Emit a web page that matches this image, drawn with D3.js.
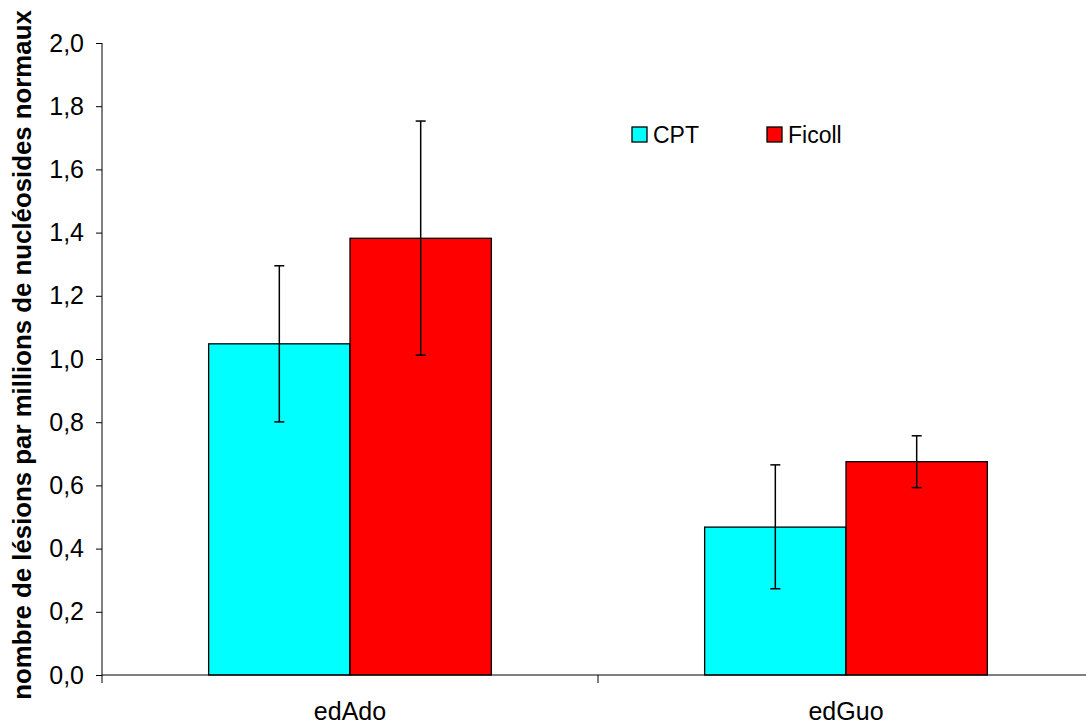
<!DOCTYPE html>
<html><head><meta charset="utf-8">
<script src="https://cdn.jsdelivr.net/npm/d3@7"></script>
<style>body{margin:0;background:#fff}svg{display:block}</style>
</head><body>
<svg id="c" width="1086" height="724"></svg>
<script>
const categories = ["edAdo", "edGuo"];
const seriesNames = ["CPT", "Ficoll"];
const seriesColors = ["#00FFFF", "#FF0000"];
const cptValues = [1.048, 0.468];
const cptErrLow = [0.801, 0.273];
const cptErrHigh = [1.295, 0.665];
const ficollValues = [1.382, 0.675];
const ficollErrLow = [1.012, 0.593];
const ficollErrHigh = [1.753, 0.757];
const yTicks = [0, 0.2, 0.4, 0.6, 0.8, 1.0, 1.2, 1.4, 1.6, 1.8, 2.0];
const yTitle = "nombre de lésions par millions de nucléosides normaux";

(function () {
const values = [cptValues, ficollValues];
const lows = [cptErrLow, ficollErrLow];
const highs = [cptErrHigh, ficollErrHigh];
const FONT = "Arial, 'Liberation Sans', sans-serif";

const svg = d3.select("#c");
const mLeft = 102, mRight = 1094, mTop = 43, mBottom = 675;
const y = d3.scaleLinear().domain([0, 2]).range([mBottom, mTop]);
const x0 = d3.scaleBand().domain(categories).range([mLeft, mRight]).padding(0);
const groupFrac = 0.57;
const x1 = d3.scaleBand().domain(seriesNames).range([0, x0.bandwidth() * groupFrac]).padding(0);
const groupOffset = x0.bandwidth() * (1 - groupFrac) / 2;

const data = [];
categories.forEach((c, i) => seriesNames.forEach((s, j) => data.push({c, s, j, v: values[j][i], lo: lows[j][i], hi: highs[j][i]})));

svg.append("g").selectAll("rect").data(data).join("rect")
  .attr("x", d => x0(d.c) + groupOffset + x1(d.s))
  .attr("y", d => y(d.v))
  .attr("width", x1.bandwidth())
  .attr("height", d => y(0) - y(d.v))
  .attr("fill", d => seriesColors[d.j])
  .attr("stroke", "#000").attr("stroke-width", 1.3);

const eg = svg.append("g").attr("stroke", "#000").attr("stroke-width", 1.5);
data.forEach(d => {
  const cx = x0(d.c) + groupOffset + x1(d.s) + x1.bandwidth() / 2;
  eg.append("line").attr("x1", cx).attr("x2", cx).attr("y1", y(d.lo)).attr("y2", y(d.hi));
  eg.append("line").attr("x1", cx - 5).attr("x2", cx + 5).attr("y1", y(d.lo)).attr("y2", y(d.lo));
  eg.append("line").attr("x1", cx - 5).attr("x2", cx + 5).attr("y1", y(d.hi)).attr("y2", y(d.hi));
});

const yAxis = d3.axisLeft(y).tickValues(yTicks).tickSize(6).tickPadding(12)
  .tickFormat(d => d3.format(".1f")(d).replace(".", ","));
const ga = svg.append("g").attr("transform", `translate(${mLeft},0)`).call(yAxis);
ga.select(".domain").attr("d", `M0,${mTop}V${mBottom}`).attr("stroke", "#000");
ga.selectAll(".tick line").attr("stroke", "#000");
ga.selectAll("text").attr("font-family", FONT).attr("font-size", 25).attr("fill", "#000");

const gx = svg.append("g").attr("transform", `translate(0,${mBottom})`);
gx.append("line").attr("x1", mLeft).attr("x2", 1086).attr("y1", 0).attr("y2", 0).attr("stroke", "#000");
const bounds = [mLeft, ...categories.map(c => x0(c) + x0.bandwidth())];
gx.selectAll("line.tk").data(bounds).join("line").attr("class", "tk")
  .attr("x1", d => d).attr("x2", d => d).attr("y1", 0).attr("y2", 8).attr("stroke", "#000");
gx.selectAll("text").data(categories).join("text")
  .attr("x", d => x0(d) + x0.bandwidth() / 2).attr("y", 45)
  .attr("text-anchor", "middle")
  .attr("font-family", FONT).attr("font-size", 25)
  .text(d => d);

svg.append("text")
  .attr("transform", `translate(31,${355}) rotate(-90)`)
  .attr("text-anchor", "middle")
  .attr("font-family", FONT).attr("font-size", 25.8).attr("font-weight", "bold")
  .text(yTitle);

const lg = svg.append("g");
const legX = [632, 767];
seriesNames.forEach((s, j) => {
  lg.append("rect").attr("x", legX[j]).attr("y", 127).attr("width", 15).attr("height", 15)
    .attr("fill", seriesColors[j]).attr("stroke", "#000").attr("stroke-width", 1.3);
  lg.append("text").attr("x", legX[j] + 21).attr("y", 143)
    .attr("font-family", FONT).attr("font-size", 23).text(s);
});
})();
</script>
</body></html>
